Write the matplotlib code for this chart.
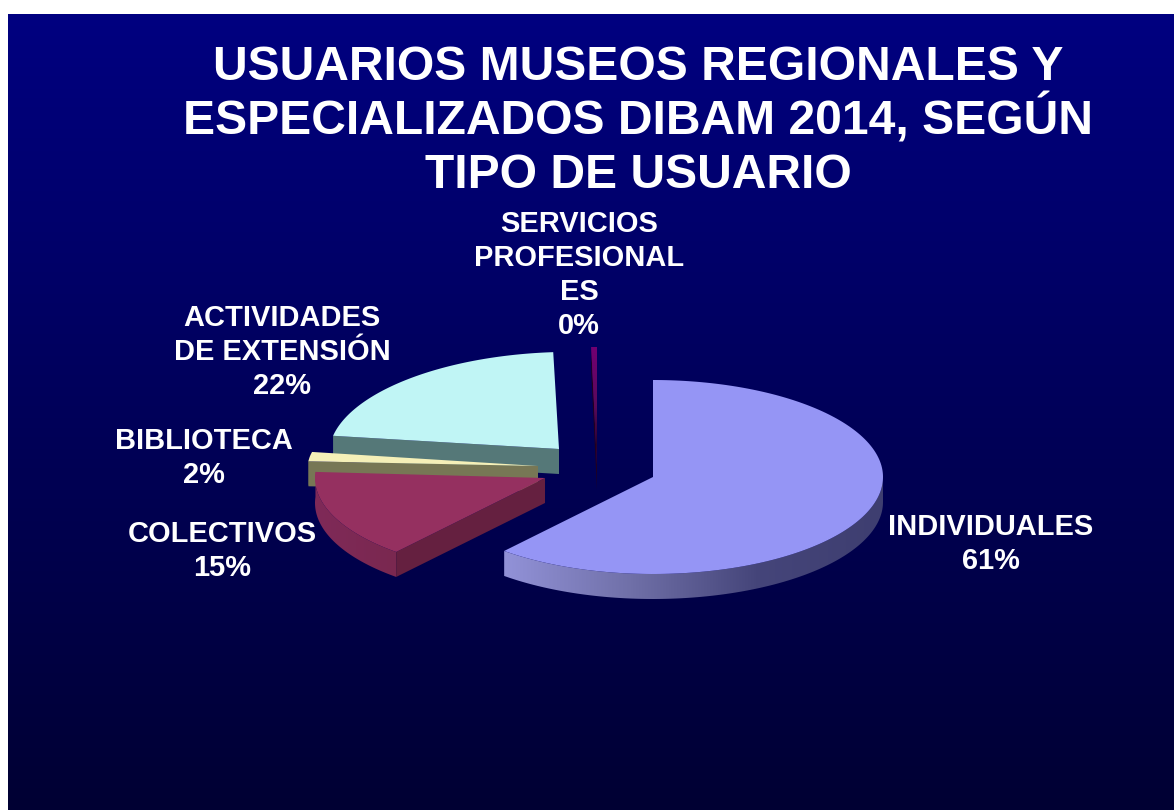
import numpy as np
import matplotlib
matplotlib.use('Agg')
import matplotlib.pyplot as plt
from matplotlib.colors import LinearSegmentedColormap
from matplotlib.patches import Polygon

categories = [['INDIVIDUALES'], ['COLECTIVOS'], ['BIBLIOTECA'], ['ACTIVIDADES', 'DE EXTENSIÓN'],
              ['SERVICIOS', 'PROFESIONAL', 'ES']]
values = [61.2, 14.8, 2.0, 21.6, 0.4]
title_lines = ['USUARIOS MUSEOS REGIONALES Y', 'ESPECIALIZADOS DIBAM 2014, SEGÚN', 'TIPO DE USUARIO']

# apex of every exploded slice, in picture pixels
centers = [(653, 477), (545, 478), (538, 466), (559, 449), (597, 465)]
radii_y = [97, 97, 75, 97, 118]
tilts = [0, 0, 0, -0.022, 0]
# baseline of the first line of every label
label_pos = [(991, 535), (222, 542), (204, 449), (282, 326), (579, 232)]
top_colors = ['#9595f5', '#953060', '#f5f0b8', '#c0f5f5', '#660066']
face_colors = ['#7070a8', '#652040', '#777755', '#557878', '#200020']
# wall shading, left to right
wall_colors = [['#9292d8', '#7070a8', '#45457a', '#3e3e70'],
               ['#7f2a58', '#7a2850'], ['#777755', '#777755'],
               ['#557878', '#557878'], ['#200020', '#200020']]
RX = 230
DEPTH = 25

plt.rcParams['font.family'] = ['Liberation Sans', 'DejaVu Sans']
plt.rcParams['font.weight'] = 'bold'

fig = plt.figure(figsize=(11.74, 8.10), dpi=100, facecolor='white')
ax = fig.add_axes([0, 0, 1, 1])
ax.axis('off')

bg = LinearSegmentedColormap.from_list('bg', ['#000080', '#000033'])
ax.imshow(np.linspace(0, 1, 256).reshape(-1, 1), cmap=bg, aspect='auto',
          extent=(8, 1174, 810, 14), zorder=0)


def edge(i, t):
    cx, cy = centers[i]
    t = np.radians(t)
    x = RX * np.sin(t)
    return cx + x, cy - radii_y[i] * np.cos(t) + tilts[i] * x


def draw_slice(i, t0, t1):
    cx, cy = centers[i]
    # outer wall, only the part turned to the viewer
    w0, w1 = max(t0, 90), min(t1, 275)
    if w1 > w0:
        xs, ys = edge(i, np.linspace(w0, w1, 200))
        pts = np.vstack([np.column_stack([xs, ys]), np.column_stack([xs, ys + DEPTH])[::-1]])
        wall = Polygon(pts, facecolor='none', edgecolor='none', zorder=2)
        ax.add_patch(wall)
        cmap = LinearSegmentedColormap.from_list('w', wall_colors[i])
        im = ax.imshow(np.linspace(0, 1, 256).reshape(1, -1), cmap=cmap, aspect='auto',
                       extent=(xs.min(), xs.max(), ys.max() + DEPTH, ys.min()), zorder=2)
        im.set_clip_path(wall)
    # cut face at the start angle
    if t0 > 180:
        x0, y0 = edge(i, t0)
        ax.add_patch(Polygon([(cx, cy), (x0, y0), (x0, y0 + DEPTH), (cx, cy + DEPTH)],
                             facecolor=face_colors[i], edgecolor='none', zorder=2))
    # top surface
    xs, ys = edge(i, np.linspace(t0, t1, 200))
    top = Polygon(np.vstack([[cx, cy], np.column_stack([xs, ys])]),
                  facecolor=top_colors[i], edgecolor='none', zorder=2)
    ax.add_patch(top)
    return top


angles = np.concatenate([[0], np.cumsum(values)]) / np.sum(values) * 360
for i in [3, 2, 1, 4, 0]:
    top = draw_slice(i, angles[i], angles[i + 1])
    if i == 4:
        # the thin slice fades to black at its apex
        fade = LinearSegmentedColormap.from_list('f', ['#720072', '#5a0a5a', '#100010'])
        cx, cy = centers[i]
        im = ax.imshow(np.linspace(0, 1, 64).reshape(-1, 1), cmap=fade, aspect='auto',
                       extent=(cx - 12, cx + 2, cy, cy - radii_y[i]), zorder=2)
        im.set_clip_path(top)

ax.set_xlim(0, 1174)
ax.set_ylim(810, 0)

for k, line in enumerate(title_lines):
    ax.text(638, 80 + 54 * k, line, color='white', fontsize=34.6, ha='center', va='baseline')
for name, v, (x, y) in zip(categories, values, label_pos):
    for k, line in enumerate(name + [f'{round(v)}%']):
        ax.text(x, y + 34 * k, line, color='white', fontsize=20.9, ha='center', va='baseline')

fig.savefig('out.png', dpi=100)
